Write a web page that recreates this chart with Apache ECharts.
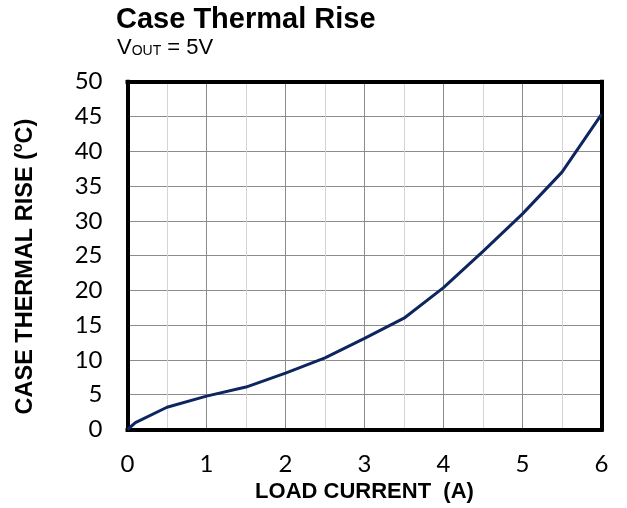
<!DOCTYPE html>
<html>
<head>
<meta charset="utf-8">
<style>
  html, body { margin: 0; padding: 0; background: #fff; }
  #chart { width: 627px; height: 508px; }
</style>
<script src="https://cdn.jsdelivr.net/npm/echarts@6/dist/echarts.min.js"></script>
</head>
<body>
<div id="chart"></div>
<script>
// Load current (A) and measured case temperature rise (°C)
const loadCurrent = [0, 0.1, 0.5, 1, 1.5, 2, 2.5, 3, 3.5, 4, 4.5, 5, 5.5, 6];
const thermalRise = [0, 1.0, 3.2, 4.8, 6.1, 8.1, 10.3, 13.1, 16.0, 20.4, 25.6, 31.0, 37.0, 45.3];

const xTicks = [0, 1, 2, 3, 4, 5, 6];
const yTicks = [0, 5, 10, 15, 20, 25, 30, 35, 40, 45, 50];

const xMin = xTicks[0], xMax = xTicks[xTicks.length - 1];
const yMin = yTicks[0], yMax = yTicks[yTicks.length - 1];

const sans = '"Liberation Sans", Arial, sans-serif';
const tickFont = 'Lato, "Open Sans", sans-serif';

// Axis used only to draw one heavy black side of the plot frame
function frameAxis(position, min, max) {
  return {
    type: 'value', position, min, max, z: 3,
    axisLine: { show: true, onZero: false, lineStyle: { color: '#000', width: 4, cap: 'square' } },
    axisTick: { show: false },
    axisLabel: { show: false },
    splitLine: { show: false }
  };
}

const chart = echarts.init(document.getElementById('chart'), null, { renderer: 'canvas' });

chart.setOption({
  animation: false,
  backgroundColor: '#fff',
  title: [
    {
      text: 'Case Thermal Rise',
      left: 111, top: 0,
      textStyle: { fontFamily: sans, fontWeight: 'bold', fontSize: 29, color: '#000' }
    },
    {
      text: '{v|V}{s|OUT}{v| = 5V}',
      left: 117, top: 35, padding: 0,
      textStyle: {
        fontWeight: 'normal',
        rich: {
          v: { fontFamily: sans, fontWeight: 'normal', fontSize: 22, color: '#000', lineHeight: 24, verticalAlign: 'bottom' },
          s: { fontFamily: sans, fontWeight: 'normal', fontSize: 14, color: '#000', lineHeight: 24, verticalAlign: 'bottom', padding: [0, 0, 1, 0] }
        }
      }
    }
  ],
  grid: {
    left: 127.5, top: 81.7, width: 474, height: 347.8,
    outerBoundsMode: 'none',
    containLabel: false
  },
  xAxis: [
    {
      type: 'value', position: 'bottom',
      min: xMin, max: xMax, interval: 1,
      name: 'LOAD CURRENT  (A)',
      nameLocation: 'middle', nameGap: 33,
      nameTextStyle: { fontFamily: sans, fontWeight: 'bold', fontSize: 22, color: '#000' },
      axisLine: { show: false },
      axisTick: { show: false },
      axisLabel: { margin: 23, fontFamily: tickFont, fontSize: 24, color: '#000' },
      splitLine: { show: true, lineStyle: { color: '#8c8c8c', width: 1 } },
      minorTick: { show: false, splitNumber: 2 },
      minorSplitLine: { show: true, lineStyle: { color: '#d4d4d4', width: 1 } }
    },
    frameAxis('bottom', xMin, xMax),
    frameAxis('top', xMin, xMax)
  ],
  yAxis: [
    {
      type: 'value', position: 'left',
      min: yMin, max: yMax, interval: 5,
      name: '{a|CASE THERMAL RISE (}{o|o}{a|C)}',
      nameLocation: 'middle', nameGap: 90, nameRotate: 90,
      nameTextStyle: {
        padding: [0, 22, 0, 0],
        rich: {
          a: { fontFamily: sans, fontWeight: 'bold', fontSize: 23.5, color: '#000', lineHeight: 26, verticalAlign: 'bottom' },
          o: { fontFamily: sans, fontWeight: 'bold', fontSize: 14, color: '#000', lineHeight: 26, verticalAlign: 'top' }
        }
      },
      axisLine: { show: false },
      axisTick: { show: false },
      axisLabel: { margin: 25, fontFamily: tickFont, fontSize: 24, color: '#000' },
      splitLine: { show: true, lineStyle: { color: '#8c8c8c', width: 1 } }
    },
    frameAxis('left', yMin, yMax),
    frameAxis('right', yMin, yMax)
  ],
  series: [{
    type: 'line',
    xAxisIndex: 0, yAxisIndex: 0,
    data: loadCurrent.map((x, i) => [x, thermalRise[i]]),
    showSymbol: false,
    symbol: 'none',
    z: 5,
    lineStyle: { color: '#0d2660', width: 3 }
  }]
});
</script>
</body>
</html>
